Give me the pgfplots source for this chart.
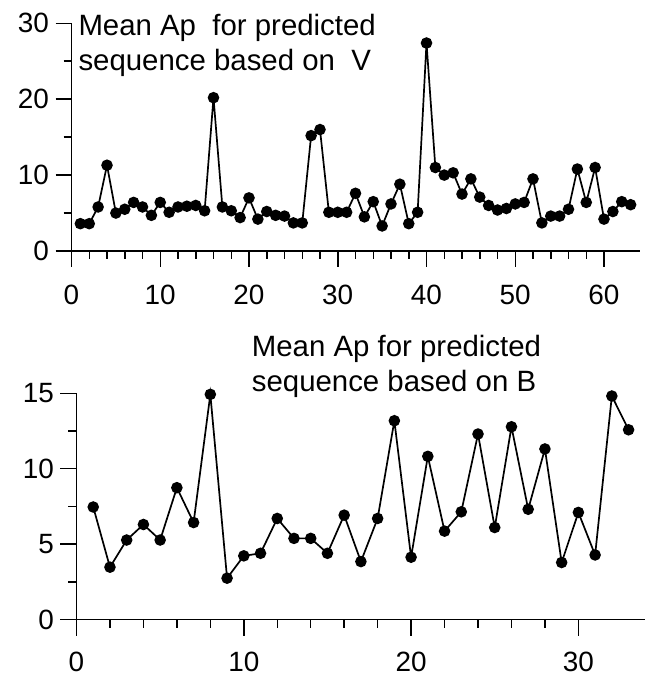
\documentclass[border=0pt]{standalone}
\usepackage{fontspec}
\setmainfont{Liberation Sans}
\usepackage{pgfplots}
\pgfplotsset{compat=1.18}
\begin{document}
\begin{tikzpicture}
\path[use as bounding box] (0bp,0bp) rectangle (647bp,676bp);
\pgfplotsset{
  myax/.style={
    scale only axis,
    axis lines=left,
    axis line style={-,line width=1.8bp,black},
    tick align=outside,
    major tick length=16bp,
    minor tick length=8bp,
    tick style={black,line width=1.5bp},
    tick label style={font=\fontsize{28}{28}\selectfont},
    /pgf/number format/assume math mode=true,
    xticklabel shift=15bp,
    yticklabel shift=3bp,
    clip=false,
  },
  myplot/.style={black,line width=1.7bp,mark=*,mark size=4.9bp,mark options={fill=black}},
}
\begin{axis}[myax,
  at={(71.5bp,425bp)},anchor=south west,
  width=568bp,height=227.7bp,
  xmin=0,xmax=64,ymin=0,ymax=30,
  xtick={0,10,20,30,40,50,60},minor x tick num=4,
  ytick={0,10,20,30},minor y tick num=1,
]
\addplot[myplot] coordinates {
(1,3.6)(2,3.6)(3,5.8)(4,11.3)(5,5.0)(6,5.5)(7,6.4)(8,5.8)(9,4.7)(10,6.4)
(11,5.1)(12,5.8)(13,5.9)(14,6.0)(15,5.3)(16,20.2)(17,5.8)(18,5.3)(19,4.4)(20,7.0)
(21,4.2)(22,5.2)(23,4.7)(24,4.6)(25,3.7)(26,3.7)(27,15.2)(28,16.0)(29,5.1)(30,5.1)
(31,5.1)(32,7.6)(33,4.5)(34,6.5)(35,3.3)(36,6.2)(37,8.8)(38,3.6)(39,5.1)(40,27.4)
(41,11.0)(42,10.0)(43,10.3)(44,7.5)(45,9.5)(46,7.1)(47,6.0)(48,5.4)(49,5.6)(50,6.2)
(51,6.4)(52,9.5)(53,3.7)(54,4.6)(55,4.6)(56,5.5)(57,10.8)(58,6.4)(59,11.0)(60,4.2)
(61,5.2)(62,6.5)(63,6.1)};
\end{axis}
\begin{axis}[myax,
  at={(76.5bp,56.5bp)},anchor=south west,
  width=568.8bp,height=226.2bp,
  xmin=0,xmax=34,ymin=0,ymax=15,
  xtick={0,10,20,30},minor x tick num=4,
  ytick={0,5,10,15},minor y tick num=1,
  xticklabel shift=13bp,
]
\addplot[myplot] coordinates {
(1,7.46)(2,3.47)(3,5.27)(4,6.3)(5,5.27)(6,8.74)(7,6.43)(8,14.93)(9,2.74)(10,4.22)
(11,4.39)(12,6.7)(13,5.38)(14,5.38)(15,4.39)(16,6.92)(17,3.84)(18,6.7)(19,13.18)(20,4.13)
(21,10.82)(22,5.86)(23,7.14)(24,12.3)(25,6.1)(26,12.78)(27,7.31)(28,11.31)(29,3.78)(30,7.1)
(31,4.28)(32,14.82)(33,12.58)};
\end{axis}
\begin{scope}[every node/.style={inner sep=0pt,anchor=base west,font=\fontsize{29.5}{35}\selectfont}]
\node at (78.3bp,640bp) {Mean Ap\ \ for predicted};
\node at (78.3bp,605bp) {sequence based on\ \ V};
\node at (251.7bp,319.3bp) {Mean Ap for predicted};
\node at (251.7bp,284.3bp) {sequence based on B};
\end{scope}
\end{tikzpicture}
\end{document}
